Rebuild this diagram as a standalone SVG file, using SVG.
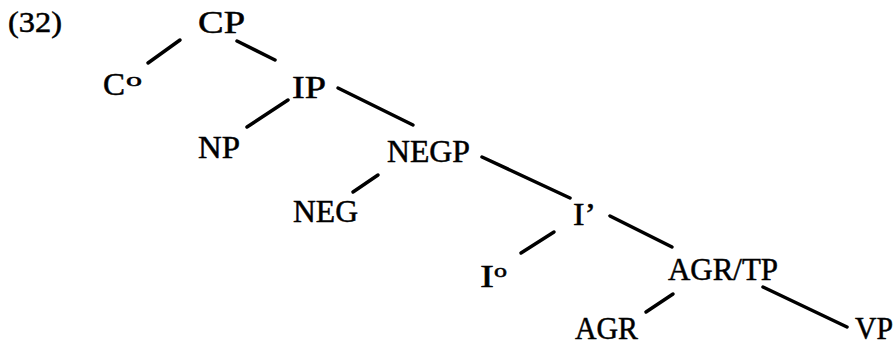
<svg xmlns="http://www.w3.org/2000/svg" width="896" height="346" viewBox="0 0 896 346">
<style>
text{font-family:"Liberation Serif","Times New Roman",serif;font-size:31px;fill:#000;stroke:#000;stroke-width:0.5}
.sup{font-size:18px}
.ln{stroke:#000;stroke-width:3.5;stroke-linecap:round;fill:none}
</style>
<rect width="896" height="346" fill="#fff"/>
<text x="8" y="32" textLength="54" lengthAdjust="spacingAndGlyphs" style="font-size:29px">(32)</text>
<g id="connectors">
<line class="ln" x1="180" y1="40" x2="148" y2="63"/>
<line class="ln" x1="237" y1="41" x2="275" y2="60"/>
<line class="ln" x1="288" y1="100" x2="247" y2="127"/>
<line class="ln" x1="338" y1="88" x2="413" y2="125"/>
<line class="ln" x1="378" y1="175" x2="353" y2="192"/>
<line class="ln" x1="482" y1="157" x2="570" y2="198"/>
<line class="ln" x1="554" y1="232" x2="521" y2="253"/>
<line class="ln" x1="610" y1="216" x2="672" y2="247"/>
<line class="ln" x1="673" y1="294" x2="646" y2="312"/>
<line class="ln" x1="763" y1="287" x2="847" y2="327"/>
</g>
<g id="CP"><text x="198" y="33" textLength="47" lengthAdjust="spacingAndGlyphs">CP</text></g>
<g id="C0"><text x="103" y="95" textLength="22" lengthAdjust="spacingAndGlyphs">C</text><text class="sup" x="126" y="86" textLength="16" lengthAdjust="spacingAndGlyphs">o</text></g>
<g id="IP"><text x="292" y="98" textLength="34" lengthAdjust="spacingAndGlyphs">IP</text></g>
<g id="NP"><text x="198" y="158" textLength="42" lengthAdjust="spacingAndGlyphs">NP</text></g>
<g id="NEGP"><text x="387" y="162" textLength="83" lengthAdjust="spacingAndGlyphs">NEGP</text></g>
<g id="NEG"><text x="293" y="222" textLength="65" lengthAdjust="spacingAndGlyphs">NEG</text></g>
<g id="Ibar"><text x="573" y="225" textLength="23" lengthAdjust="spacingAndGlyphs">I’</text></g>
<g id="I0"><text x="480" y="287" textLength="14" lengthAdjust="spacingAndGlyphs">I</text><text class="sup" x="494" y="277" textLength="13" lengthAdjust="spacingAndGlyphs">o</text></g>
<g id="AGRTP"><text x="668" y="280" textLength="110" lengthAdjust="spacingAndGlyphs">AGR/TP</text></g>
<g id="AGR"><text x="575" y="339" textLength="63" lengthAdjust="spacingAndGlyphs">AGR</text></g>
<g id="VP"><text x="855" y="339" textLength="38" lengthAdjust="spacingAndGlyphs">VP</text></g>
</svg>
